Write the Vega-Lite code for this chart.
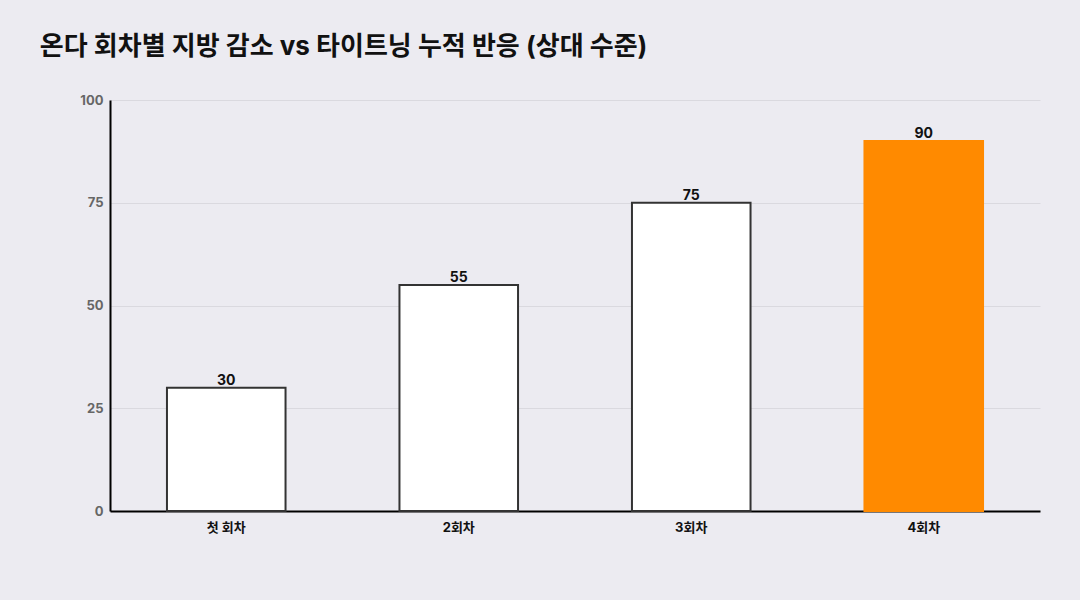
{
  "$schema": "https://vega.github.io/schema/vega-lite/v6.json",
  "autosize": "none",
  "width": 930,
  "height": 411,
  "padding": {"left": 110, "top": 100, "right": 40, "bottom": 89},
  "background": "#ECEBF1",
  "title": {
    "text": "온다 회차별 지방 감소 vs 타이트닝 누적 반응 (상대 수준)",
    "anchor": "start",
    "dx": -40,
    "offset": 34,
    "fontSize": 26,
    "fontWeight": "bold",
    "font": "Inter, Noto Sans CJK KR",
    "color": "#111111"
  },
  "data": {
    "values": [
      {"session": "첫 회차", "level": 30, "highlight": "no"},
      {"session": "2회차", "level": 55, "highlight": "no"},
      {"session": "3회차", "level": 75, "highlight": "no"},
      {"session": "4회차", "level": 90, "highlight": "yes"}
    ]
  },
  "encoding": {
    "x": {
      "field": "session",
      "type": "nominal",
      "sort": null,
      "title": null,
      "scale": {"paddingInner": 0.49, "paddingOuter": 0.245},
      "axis": {
        "labelAngle": 0,
        "labelFontSize": 13,
        "labelFontWeight": "bold",
        "labelFont": "Inter, Noto Sans CJK KR",
        "labelColor": "#111111",
        "labelPadding": 10,
        "ticks": false,
        "domainColor": "#000000",
        "domainWidth": 2
      }
    },
    "y": {
      "field": "level",
      "type": "quantitative",
      "title": null,
      "scale": {"domain": [0, 100]},
      "axis": {
        "values": [0, 25, 50, 75, 100],
        "labelFontSize": 13,
        "labelFontWeight": "bold",
        "labelFont": "Inter, Noto Sans CJK KR",
        "labelColor": "#666666",
        "labelPadding": 7,
        "ticks": false,
        "domainColor": "#000000",
        "domainWidth": 2,
        "gridColor": "#DAD9DF",
        "gridWidth": 1
      }
    }
  },
  "layer": [
    {
      "mark": {"type": "bar", "strokeWidth": 2},
      "encoding": {
        "color": {
          "field": "highlight",
          "type": "nominal",
          "scale": {"domain": ["no", "yes"], "range": ["#FFFFFF", "#FF8A00"]},
          "legend": null
        },
        "stroke": {
          "field": "highlight",
          "type": "nominal",
          "scale": {"domain": ["no", "yes"], "range": ["#333333", "#FF8A00"]},
          "legend": null
        }
      }
    },
    {
      "mark": {
        "type": "text",
        "baseline": "bottom",
        "dy": 0,
        "fontSize": 14,
        "fontWeight": "bold",
        "font": "Inter, Noto Sans CJK KR",
        "color": "#111111"
      },
      "encoding": {
        "text": {"field": "level", "type": "quantitative"}
      }
    }
  ],
  "config": {
    "view": {"stroke": null}
  }
}
